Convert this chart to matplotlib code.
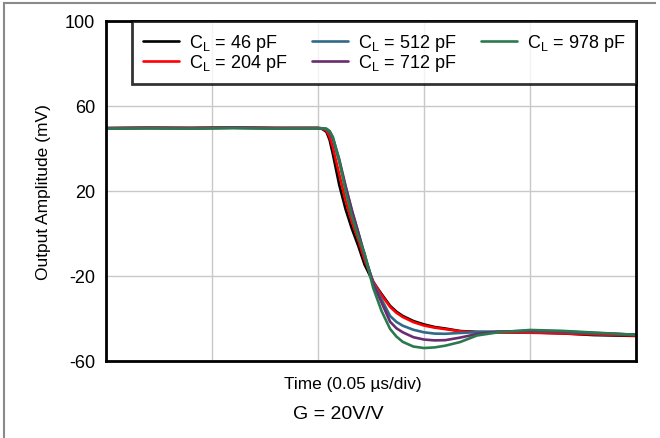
#!/usr/bin/env python3

import matplotlib
matplotlib.use("Agg")
import matplotlib.pyplot as plt
from matplotlib.lines import Line2D

plt.rcParams["font.family"] = ["Liberation Sans", "DejaVu Sans"]
plt.rcParams["mathtext.default"] = "regular"
plt.rcParams["axes.unicode_minus"] = False

# time axis in microseconds, 0.05 us per division
time_us = [0.0, 0.02, 0.04, 0.06, 0.08, 0.1, 0.102, 0.104, 0.1055, 0.107,
           0.11, 0.113, 0.116, 0.119, 0.122, 0.126, 0.13, 0.134, 0.137,
           0.14, 0.145, 0.15, 0.155, 0.16, 0.167, 0.175, 0.185, 0.2,
           0.215, 0.23, 0.25]

cl_46 = [49.5, 49.7, 49.6, 49.8, 49.6, 49.6, 49.2, 47.8, 44.0, 37.5,
         23.0, 11.5, 2.2, -5.8, -14.7, -22.8, -28.5, -34.0, -36.8,
         -38.8, -41.2, -42.8, -44.0, -44.7, -45.9, -46.3, -46.4, -46.5,
         -47.0, -47.8, -48.2]
cl_204 = [49.6, 49.8, 49.7, 49.9, 49.7, 49.7, 49.4, 48.3, 45.5, 40.5,
          28.0, 15.5, 5.5, -3.0, -12.5, -22.5, -29.0, -34.5, -37.3,
          -39.3, -41.7, -43.3, -44.3, -45.0, -46.0, -46.5, -46.6, -46.7,
          -47.0, -47.5, -48.0]
cl_512 = [49.5, 49.6, 49.5, 49.7, 49.5, 49.6, 49.5, 49.0, 47.6, 44.5,
          34.0, 22.0, 10.5, 0.5, -10.5, -23.0, -31.0, -38.8, -41.6,
          -43.4, -45.3, -46.5, -47.1, -47.2, -46.8, -46.4, -46.2, -46.0,
          -46.3, -47.0, -47.6]
cl_712 = [49.6, 49.7, 49.6, 49.8, 49.6, 49.6, 49.5, 49.2, 48.0, 45.0,
          35.0, 22.5, 11.0, 0.5, -10.0, -23.5, -32.5, -41.5, -44.6,
          -46.5, -48.8, -49.9, -50.3, -50.2, -49.0, -47.3, -46.2, -45.8,
          -46.1, -46.8, -47.6]
cl_978 = [49.4, 49.5, 49.4, 49.6, 49.4, 49.5, 49.5, 49.3, 48.2, 45.5,
          34.5, 20.0, 8.0, -1.5, -9.5, -25.5, -36.5, -44.9, -48.5,
          -51.0, -53.2, -53.9, -53.6, -52.8, -51.1, -48.0, -46.5, -45.4,
          -45.8, -46.6, -47.7]

labels = ["46", "204", "512", "712", "978"]
series = [cl_46, cl_204, cl_512, cl_712, cl_978]
colors = ["#000000", "#ff0000", "#2f6a88", "#6a2c6e", "#2b7a4f"]

y_ticks = [-60, -20, 20, 60, 100]
x_grid = [0.0, 0.05, 0.1, 0.15, 0.2, 0.25]


def plot_response() -> None:
    fig = plt.figure(figsize=(6.6, 4.39), dpi=100)
    ax = fig.add_axes([0.1606, 0.1754, 0.803, 0.7745])

    for vals, lab, col in zip(series, labels, colors):
        ax.plot(time_us, vals, color=col, lw=1.9,
                label=f"C$_L$ = {lab} pF", solid_capstyle="round",
                solid_joinstyle="round")

    ax.set_xlim(0, 0.25)
    ax.set_ylim(-60, 100)
    ax.set_yticks(y_ticks)
    ax.set_xticks(x_grid)
    ax.set_xticklabels([])
    ax.tick_params(length=0, labelsize=13, pad=8)
    ax.grid(True, color="#c8c8c8", lw=1)
    ax.set_axisbelow(True)
    for sp in ax.spines.values():
        sp.set_linewidth(2)
        sp.set_color("black")

    ax.set_ylabel("Output Amplitude (mV)", fontsize=12.5, labelpad=10)
    ax.set_xlabel("Time (0.05 \u00b5s/div)", fontsize=12.4)
    ax.xaxis.set_label_coords(0.466, -0.043)
    fig.text(0.512, 0.055, "G = 20V/V", ha="center", va="center",
             fontsize=14)

    leg = ax.legend(loc="upper right", bbox_to_anchor=(1, 1), ncol=3,
                    fontsize=13, frameon=True, fancybox=False,
                    borderaxespad=0, handlelength=2.0, labelspacing=-0.05,
                    columnspacing=1.35, handletextpad=0.55, borderpad=0.6)
    leg.get_frame().set_edgecolor("black")
    leg.get_frame().set_linewidth(2)

    # grey partial frame around the figure
    fig.add_artist(Line2D([4 / 660, 655 / 660], [1 - 4 / 439, 1 - 4 / 439],
                          color="#8a8a8a", lw=1.5, transform=fig.transFigure))
    fig.add_artist(Line2D([4 / 660, 4 / 660], [0, 1 - 4 / 439],
                          color="#8a8a8a", lw=1.5, transform=fig.transFigure))

    fig.savefig("out.png", dpi=100)


def main() -> None:
    plot_response()


main()
